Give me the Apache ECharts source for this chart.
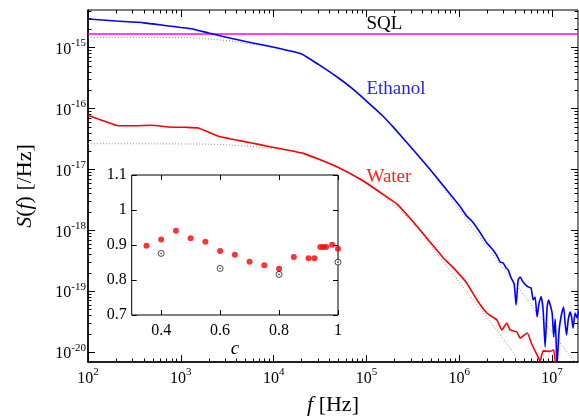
<!DOCTYPE html>
<html>
<head>
<meta charset="utf-8">
<script src="https://cdn.jsdelivr.net/npm/echarts@6/dist/echarts.min.js"></script>
<style>
  html, body { margin: 0; padding: 0; background: #fff; }
  #chart { width: 579px; height: 416px; }
</style>
</head>
<body>
<div id="chart"></div>
<script>
// Noise spectral density S(f) [1/Hz] of ethanol and water, with Lorentzian fits,
// the SQL level, and an inset of the fitted exponent c.

const ethanolF = [100, 200, 400, 700, 1000, 1300, 2000, 3000, 5000, 1e4, 2e4, 3e4, 5e4, 7e4, 1e5, 1.5e5, 2e5, 3e5, 5e5, 1e6, 1.2e6, 1.35e6, 1.5e6, 1.7e6, 2e6,
  2.31e6, 2.55e6, 2.75e6, 2.97e6, 3.19e6, 3.36e6, 3.62e6, 3.90e6, 4.09e6, 4.30e6, 4.52e6, 4.87e6, 5.25e6, 5.51e6, 5.94e6, 6.24e6,
  6.56e6, 6.89e6, 7.24e6, 7.61e6, 8.00e6, 8.41e6, 8.83e6, 9.16e6, 1.0e7, 1.04e7, 1.08e7, 1.13e7, 1.19e7, 1.27e7, 1.33e7, 1.38e7, 1.43e7, 1.49e7,
  1.56e7, 1.62e7, 1.68e7, 1.77e7, 1.86e7, 1.95e7];
const ethanolS = [2.96e-15, 2.74e-15, 2.56e-15, 2.30e-15, 2.15e-15, 2.05e-15, 1.74e-15, 1.50e-15, 1.26e-15, 1.02e-15, 7.88e-16, 5.36e-16, 3.18e-16, 2.14e-16, 1.33e-16, 7.57e-17, 4.73e-17, 2.34e-17, 9.44e-18, 2.56e-18, 1.72e-18, 1.45e-18, 1.18e-18, 8.9e-19, 6.07e-19,
  4.77e-19, 3.80e-19, 3.03e-19, 2.92e-19, 2.42e-19, 2.24e-19, 1.65e-19, 1.32e-19, 5.96e-20, 1.53e-19, 1.72e-19, 1.42e-19, 1.25e-19, 1.18e-19, 1.13e-19, 7.19e-20,
  8.05e-20, 3.79e-20, 6.43e-20, 8.2e-20, 4.93e-20, 1.22e-20, 5.52e-20, 7.19e-20, 4.40e-20, 1.78e-20, 3.5e-20, 6.0e-21, 2.32e-20, 4.40e-20, 5.52e-20, 3.01e-20, 1.91e-20, 3.38e-20,
  4.57e-20, 3.79e-20, 2.49e-20, 4.40e-20, 3.65e-20, 4.93e-20];

const waterF = [100, 129, 152, 212, 321, 485, 733, 1110, 1544, 2535, 3837, 5807, 9140, 2.09e4, 4.79e4, 9.26e4, 1.66e5, 2.12e5, 3.20e5, 4.84e5, 6.74e5, 8.64e5,
  1.20e6, 1.55e6, 1.98e6, 2.54e6, 2.87e6, 3.25e6, 3.52e6, 4.16e6, 4.52e6, 5.38e6, 6.09e6, 6.89e6, 7.43e6, 8.0e6, 9.51e6, 1.04e7, 1.08e7, 1.13e7];
const waterS = [7.76e-17, 6.74e-17, 6.18e-17, 5.24e-17, 5.24e-17, 5.32e-17, 4.99e-17, 4.93e-17, 4.80e-17, 3.51e-17, 3.08e-17, 2.72e-17, 2.37e-17, 1.84e-17, 1.11e-17, 6.47e-18, 3.53e-18, 2.72e-18, 1.37e-18, 6.45e-19, 3.52e-19, 2.42e-19,
  1.37e-19, 7.19e-20, 4.40e-20, 3.38e-20, 2.32e-20, 3.01e-20, 2.32e-20, 2.15e-20, 1.71e-20, 2.07e-20, 1.31e-20, 9.0e-21, 7.16e-21, 1.05e-20, 1.03e-20, 1.09e-20, 6.9e-21, 4.0e-21];

const ethanolFitF = [100, 1000, 2640, 5570, 1.17e4, 2.07e4, 4.79e4, 9.18e4, 1.66e5, 2.95e5, 4.84e5, 1.02e6, 2.15e6, 4.87e6, 9.51e6, 1.91e7];
const ethanolFitS = [1.48e-15, 1.46e-15, 1.34e-15, 1.15e-15, 9.52e-16, 7.59e-16, 3.31e-16, 1.47e-16, 6.50e-17, 2.39e-17, 9.82e-18, 2.08e-18, 4.59e-19, 9.04e-20, 2.32e-20, 5.93e-21];

const waterFitF = [100, 1000, 4350, 1.26e4, 2.09e4, 4.79e4, 9.26e4, 1.66e5, 3.20e5, 6.74e5, 1.31e6, 2.43e6, 4.52e6, 5.79e6];
const waterFitS = [2.65e-17, 2.63e-17, 2.46e-17, 2.09e-17, 1.83e-17, 1.10e-17, 6.23e-18, 3.28e-18, 1.27e-18, 3.03e-19, 8.38e-20, 2.50e-20, 6.9e-21, 4.2e-21];

const sqlF = [100, 1.9e7];
const sqlS = [1.68e-15, 1.68e-15];

// inset: exponent c
const insetRedC = [0.35, 0.40, 0.45, 0.50, 0.55, 0.60, 0.65, 0.70, 0.75, 0.80, 0.85, 0.90, 0.92, 0.94, 0.95, 0.96, 0.98, 1.00];
const insetRedV = [0.898, 0.916, 0.941, 0.919, 0.909, 0.883, 0.872, 0.852, 0.842, 0.832, 0.866, 0.862, 0.862, 0.894, 0.894, 0.894, 0.901, 0.889];
const insetOpenC = [0.4, 0.6, 0.8, 1.0];
const insetOpenV = [0.876, 0.833, 0.816, 0.851];

// tick labels
const xMajorTicks = [1e2, 1e3, 1e4, 1e5, 1e6, 1e7];
const yMajorTicks = [1e-20, 1e-19, 1e-18, 1e-17, 1e-16, 1e-15];
const insetXTicks = [0.4, 0.6, 0.8, 1.0];
const insetYTicks = [0.7, 0.8, 0.9, 1.0, 1.1];

const FONT = '"Liberation Serif", "DejaVu Serif", serif';
const X_MIN = 100, X_MAX = 1.9e7;
const Y_MIN = 6.9e-21, Y_MAX = 4.16e-15;

function pairs(xs, ys) { return xs.map((x, i) => [x, ys[i]]); }

function logMinorTicks(loExp, hiExp) {
  const out = [];
  for (let e = loExp; e <= hiExp; e++) {
    for (let k = 2; k <= 9; k++) out.push(k * Math.pow(10, e));
  }
  return out;
}

const powRich = {
  b: { fontFamily: FONT, fontSize: 16, color: '#000', lineHeight: 20, verticalAlign: 'bottom' },
  s: { fontFamily: FONT, fontSize: 11, color: '#000', lineHeight: 11, verticalAlign: 'top' }
};
function powLabel(v) {
  return '{b|10}{s|' + Math.round(Math.log10(v)) + '}';
}

function logAxis(kind, position, ticks, len, withLabels, extra) {
  const ax = {
    type: 'log', logBase: 10, gridIndex: 0, position: position,
    min: kind === 'x' ? X_MIN : Y_MIN,
    max: kind === 'x' ? X_MAX : Y_MAX,
    axisLine: { show: false },
    splitLine: { show: false },
    minorTick: { show: false },
    axisTick: { show: true, inside: true, length: len, customValues: ticks, lineStyle: { color: '#000', width: 1 } },
    axisLabel: { show: false }
  };
  if (withLabels) {
    ax.axisLabel = {
      show: true, customValues: ticks, formatter: powLabel, rich: powRich,
      margin: kind === 'x' ? 5 : 2
    };
    ax.axisLine = { show: true, lineStyle: { color: '#000', width: 1.6 } };
  }
  return Object.assign(ax, extra || {});
}

function insetAxis(kind, position, withLabels, extra) {
  const ticks = kind === 'x' ? insetXTicks : insetYTicks;
  const ax = {
    type: 'value', gridIndex: 1, position: position,
    min: kind === 'x' ? 0.3 : 0.7,
    max: kind === 'x' ? 1.0 : 1.1,
    axisLine: { show: false },
    splitLine: { show: false },
    axisTick: { show: true, inside: true, length: 5, customValues: ticks, lineStyle: { color: '#000', width: 1 } },
    axisLabel: withLabels ? {
      show: true, customValues: ticks,
      formatter: v => String(Number(v.toFixed(1))),
      fontFamily: FONT, fontSize: 16, color: '#000',
      margin: kind === 'x' ? 8 : 5
    } : { show: false },
    z: 10
  };
  return Object.assign(ax, extra || {});
}

const xMinor = logMinorTicks(2, 7);
const yMinor = logMinorTicks(-21, -15);

function nameStyle(size) {
  return {
    fontFamily: FONT, fontSize: size, color: '#000',
    rich: {
      i: { fontFamily: FONT, fontSize: size, fontStyle: 'italic', color: '#000' },
      r: { fontFamily: FONT, fontSize: size, color: '#000' }
    }
  };
}

const xAxes = [
  logAxis('x', 'bottom', xMajorTicks, 7, true, {
    name: '{i|f} {r|[Hz]}', nameLocation: 'middle', nameGap: 32, nameTextStyle: nameStyle(22)
  }),
  logAxis('x', 'bottom', xMinor, 3.5, false),
  logAxis('x', 'top', xMajorTicks, 7, false),
  logAxis('x', 'top', xMinor, 3.5, false),
  insetAxis('x', 'bottom', true, {
    name: '{i|c}', nameLocation: 'middle', nameGap: 16, nameTextStyle: nameStyle(19)
  }),
  insetAxis('x', 'top', false)
];

const yAxes = [
  logAxis('y', 'left', yMajorTicks, 7, true, {
    name: '{i|S}{r|(}{i|f}{r|) [/Hz]}', nameLocation: 'middle', nameGap: 52, nameRotate: 90, nameTextStyle: nameStyle(22)
  }),
  logAxis('y', 'left', yMinor, 3.5, false),
  logAxis('y', 'right', yMajorTicks, 7, false),
  logAxis('y', 'right', yMinor, 3.5, false),
  insetAxis('y', 'left', true),
  insetAxis('y', 'right', false)
];

function lineSeries(name, xs, ys, color, width, type, smooth, z) {
  return {
    name: name, type: 'line', xAxisIndex: 0, yAxisIndex: 0,
    data: pairs(xs, ys), symbol: 'none', smooth: smooth, clip: true,
    lineStyle: { color: color, width: width, type: type },
    z: z, animation: false
  };
}

// annotation anchors in data coordinates
const annotations = [
  { text: 'SQL', at: [1.0e5, 2.45e-15], color: '#000000' },
  { text: 'Ethanol', at: [1.0e5, 2.1e-16], color: '#1f1fff' },
  { text: 'Water', at: [1.0e5, 7.6e-18], color: '#ff1f1f' }
];

const series = [
  lineSeries('Ethanol fit', ethanolFitF, ethanolFitS, '#8a8a8a', 1, [1, 2], true, 1),
  lineSeries('Water fit', waterFitF, waterFitS, '#8a8a8a', 1, [1, 2], true, 1),
  lineSeries('SQL', sqlF, sqlS, '#ff00ff', 1.3, 'solid', false, 2),
  lineSeries('Ethanol', ethanolF, ethanolS, '#0000ff', 1.6, 'solid', 0.15, 3),
  lineSeries('Water', waterF, waterS, '#ff0000', 1.6, 'solid', 0.15, 3),
  {
    type: 'scatter', xAxisIndex: 0, yAxisIndex: 0, symbolSize: 0, silent: true,
    itemStyle: { opacity: 1 },
    data: annotations.map(a => ({
      value: a.at, name: a.text,
      label: { show: true, formatter: a.text, color: a.color, opacity: 1, position: [0, 0], align: 'left', verticalAlign: 'middle',
        fontFamily: FONT, fontSize: 19, textBorderWidth: 0 }
    })),
    z: 4, animation: false
  },
  {
    type: 'scatter', xAxisIndex: 4, yAxisIndex: 4, data: pairs(insetRedC, insetRedV),
    symbol: 'circle', symbolSize: 6, itemStyle: { color: '#ff0000' }, z: 12, animation: false
  },
  {
    type: 'scatter', xAxisIndex: 4, yAxisIndex: 4, data: pairs(insetOpenC, insetOpenV),
    symbol: 'circle', symbolSize: 6, itemStyle: { color: '#fff', borderColor: '#000', borderWidth: 0.9 }, z: 12, animation: false
  },
  {
    type: 'scatter', xAxisIndex: 4, yAxisIndex: 4, data: pairs(insetOpenC, insetOpenV),
    symbol: 'circle', symbolSize: 1.6, itemStyle: { color: '#000' }, z: 13, animation: false
  }
];

const chart = echarts.init(document.getElementById('chart'), null, { renderer: 'canvas' });
chart.setOption({
  animation: false,
  backgroundColor: '#fff',
  textStyle: { fontFamily: FONT },
  grid: [
    { left: 88, top: 10, width: 490, height: 352, show: true, borderColor: '#000', borderWidth: 1,
      backgroundColor: 'transparent', containLabel: false, outerBoundsMode: 'none' },
    { left: 131.7, top: 175, width: 206.3, height: 140, show: true, borderColor: '#000', borderWidth: 1,
      backgroundColor: '#fff', z: 5, containLabel: false, outerBoundsMode: 'none' }
  ],
  xAxis: xAxes,
  yAxis: yAxes,
  series: series
});
</script>
</body>
</html>
